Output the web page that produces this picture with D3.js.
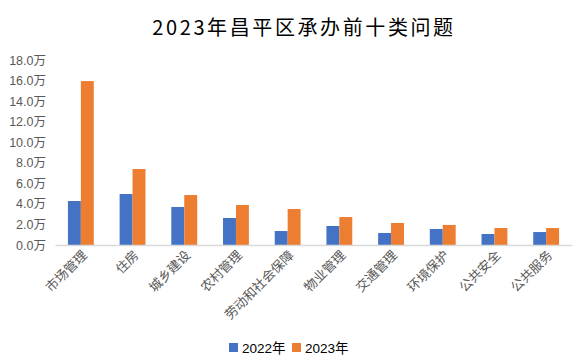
<!DOCTYPE html>
<html>
<head>
<meta charset="utf-8">
<script src="https://cdn.jsdelivr.net/npm/d3@7"></script>
<style>
  html, body { margin: 0; padding: 0; background: #fff; }
  svg { display: block; }
</style>
</head>
<body>
<div id="chart"></div>
<script>
const categories = ['市场管理', '住房', '城乡建设', '农村管理', '劳动和社会保障', '物业管理', '交通管理', '环境保护', '公共安全', '公共服务'];
const seriesNames = ['2022年', '2023年'];
const values2022 = [4.28, 4.96, 3.70, 2.63, 1.36, 1.85, 1.17, 1.56, 1.07, 1.26];
const values2023 = [15.95, 7.39, 4.86, 3.89, 3.50, 2.72, 2.14, 1.95, 1.65, 1.65];
const yTicks = [0, 2, 4, 6, 8, 10, 12, 14, 16, 18];
const colors = ['#4472C4', '#ED7D31'];

const W = 587, H = 361;
const margin = {top: 60, right: 15, bottom: 116, left: 55};

const svg = d3.select('#chart').append('svg')
  .attr('width', W)
  .attr('height', H)
  .style('font-family', '"Liberation Sans", "Noto Sans CJK SC", sans-serif');

// title
svg.append('text')
  .attr('x', 304)
  .attr('y', 35)
  .attr('text-anchor', 'middle')
  .attr('font-size', 20)
  .attr('letter-spacing', 2.6)
  .attr('fill', '#000')
  .style('font-family', '"Noto Sans CJK SC", sans-serif')
  .text('2023年昌平区承办前十类问题');

const x = d3.scaleBand()
  .domain(categories)
  .range([margin.left, W - margin.right])
  .paddingInner(0.5)
  .paddingOuter(0.25);

const xSub = d3.scaleBand()
  .domain(seriesNames)
  .range([0, x.bandwidth()]);

const y = d3.scaleLinear()
  .domain([0, 18])
  .range([H - margin.bottom, margin.top]);

// y axis labels only
const yAxis = d3.axisLeft(y)
  .tickValues(yTicks)
  .tickSize(0)
  .tickPadding(0)
  .tickFormat(d => d3.format('.1f')(d) + '万');

svg.append('g')
  .attr('transform', 'translate(' + 46 + ',0)')
  .call(yAxis)
  .call(g => g.select('.domain').remove())
  .selectAll('text')
    .attr('font-size', 12.5)
    .attr('fill', '#595959')
    .style('font-family', '"Liberation Sans", "Noto Sans CJK SC", sans-serif');

// bars
const data = categories.map((c, i) => ({cat: c, vals: [values2022[i], values2023[i]]}));

const groups = svg.append('g').selectAll('g')
  .data(data)
  .enter().append('g')
    .attr('transform', d => 'translate(' + x(d.cat) + ',0)');

groups.selectAll('rect')
  .data(d => d.vals.map((v, j) => ({name: seriesNames[j], v: v, j: j})))
  .enter().append('rect')
    .attr('x', d => xSub(d.name))
    .attr('y', d => y(d.v))
    .attr('width', xSub.bandwidth())
    .attr('height', d => y(0) - y(d.v))
    .attr('fill', d => colors[d.j]);

// x axis
const xAxis = d3.axisBottom(x).tickSize(0).tickPadding(0);
const gx = svg.append('g')
  .attr('transform', 'translate(0,' + y(0) + ')')
  .call(xAxis);
gx.select('.domain').attr('stroke', '#d9d9d9').attr('stroke-width', 1.3);
gx.selectAll('text')
  .attr('font-size', 13)
  .attr('fill', '#595959')
  .style('font-family', '"Noto Sans CJK SC", sans-serif')
  .attr('text-anchor', 'end')
  .attr('dy', null)
  .attr('transform', 'translate(7,11) rotate(-45)');

// legend
const legend = svg.append('g').attr('transform', 'translate(229,348)');
const legendX = [0, 63];
seriesNames.forEach((name, i) => {
  const item = legend.append('g').attr('transform', 'translate(' + legendX[i] + ',0)');
  item.append('rect')
    .attr('x', 0).attr('y', -5)
    .attr('width', 9).attr('height', 9)
    .attr('fill', colors[i]);
  item.append('text')
    .attr('x', 13).attr('y', 0)
    .attr('dy', '0.35em')
    .attr('font-size', 13.5)
    .attr('fill', '#000')
    .style('font-family', '"Liberation Sans", "Noto Sans CJK SC", sans-serif')
    .text(name);
});
</script>
</body>
</html>
